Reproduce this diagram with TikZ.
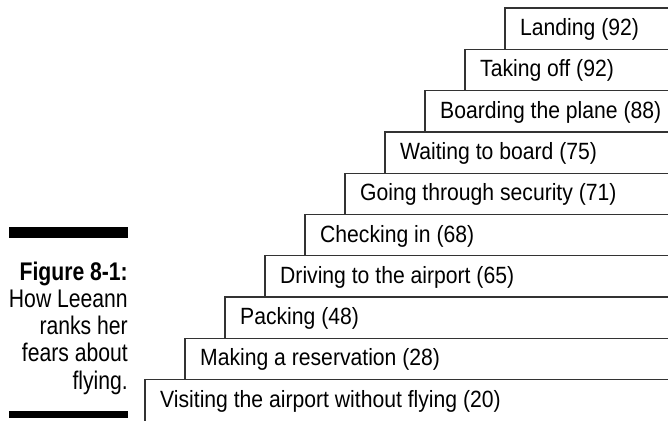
\documentclass[tikz,border=0pt]{standalone}
\usepackage{fontspec}
\setmainfont{Liberation Sans}
\newfontfamily\stepfont{Liberation Sans}[FakeStretch=0.9]
\newfontfamily\capfont{Liberation Sans}[FakeStretch=0.83]
\definecolor{ln}{gray}{.2}
\tikzset{stair/.style={draw=ln, line width=1.3pt}}
\tikzset{lbl/.style={anchor=base west, inner sep=0pt, font=\stepfont\fontsize{23.5}{23.5}\selectfont}}
\tikzset{captext/.style={anchor=base east, inner sep=0pt, font=\capfont\fontsize{25.5}{25.5}\selectfont}}

\begin{document}
\begin{tikzpicture}[x=1pt, y=-1pt]
    \useasboundingbox (0,0) rectangle (668,420);
    % steps, top one first
    \foreach \t [count=\i from 0] in {Landing (92), Taking off (92), Boarding the plane (88),
        Waiting to board (75), Going through security (71), Checking in (68),
        Driving to the airport (65), Packing (48), Making a reservation (28),
        Visiting the airport without flying (20)}{
        \pgfmathsetmacro\xl{505-40*\i}
        \pgfmathsetmacro\yt{8+41.3*\i}
        \draw[stair] (\xl, \yt+41.3) -- (\xl, \yt) -- (668, \yt);
        \node[lbl] (s\i) at (\xl+15, \yt+27.5) {\t};
    }
    % caption
    \fill (9, 227) rectangle (128, 238);
    \fill (9, 411) rectangle (128, 418);
    \node[captext] (c0) at (128, 280) {\bfseries Figure 8-1:};
    \foreach \t [count=\i] in {How Leeann, ranks her, fears about, flying.}{
        \node[captext] (c\i) at (128, 280+27.3*\i) {\t};
    }
\end{tikzpicture}
\end{document}
